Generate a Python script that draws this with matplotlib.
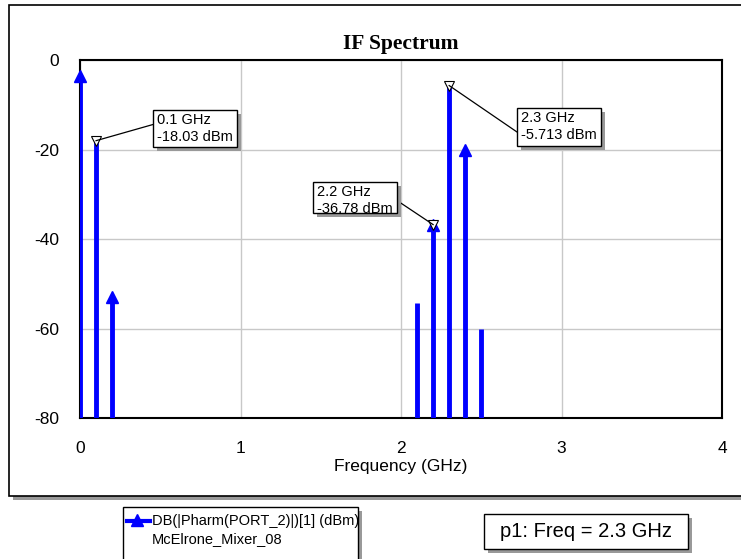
import matplotlib.pyplot as plt
from matplotlib.patches import Rectangle
from matplotlib.lines import Line2D

plt.rcParams['axes.unicode_minus'] = False

# spectrum lines (GHz, dBm)
freqs = [0.0, 0.1, 0.2, 2.1, 2.2, 2.3, 2.4, 2.5]
levels = [-3.5, -18.03, -53.0, -54.3, -36.78, -5.713, -20.0, -60.0]
# points carrying the series' triangle symbol
sym_freqs = [0.0, 0.2, 2.2, 2.4]
sym_levels = [-3.5, -53.0, -36.78, -20.0]

# marker readouts: (freq, level, box x0, box y0, box x1, box y1) in pixels from top-left
readouts = [
    (0.1, -18.03, 153, 110, 237, 147),
    (2.2, -36.78, 313, 182, 397, 213),
    (2.3, -5.713, 517, 108, 601, 146),
]

W, H = 741, 559
FONT = 'Liberation Sans'

fig = plt.figure(figsize=(W / 100, H / 100), dpi=100)


def fx(x):
    return x / W


def fy(y):
    return 1 - y / H


def shadow_box(x0, y0, x1, y1, off=4, lw=1.0, z=5):
    fig.add_artist(Rectangle((fx(x0 + off), fy(y1 + off)), fx(x1 - x0), (y1 - y0) / H,
                             transform=fig.transFigure, facecolor='#999999',
                             edgecolor='none', zorder=z))
    fig.add_artist(Rectangle((fx(x0), fy(y1)), fx(x1 - x0), (y1 - y0) / H,
                             transform=fig.transFigure, facecolor='white',
                             edgecolor='black', lw=lw, zorder=z + 0.5))


# outer frame with shadow
shadow_box(9, 5, 745, 496, off=4, lw=1.2, z=1)

ax = fig.add_axes([fx(80), fy(418), fx(722 - 80), (418 - 60) / H], zorder=10)
ax.set_xlim(0, 4)
ax.set_ylim(-80, 0)
ax.set_xticks([0, 1, 2, 3, 4])
ax.set_yticks([-80, -60, -40, -20, 0])
ax.grid(True, color='#c8c8c8', lw=1.0)
ax.set_axisbelow(True)
for s in ax.spines.values():
    s.set_linewidth(1.5)
ax.tick_params(length=0, labelsize=12.5)
ax.tick_params(axis='x', pad=16.5)
ax.tick_params(axis='y', pad=15)
for lab in ax.get_xticklabels() + ax.get_yticklabels():
    lab.set_fontfamily(FONT)
ax.set_xlabel('Frequency (GHz)', fontsize=12.5, family=FONT, labelpad=2)
ax.set_title('IF Spectrum', fontsize=15.5, fontweight='bold',
             family='Liberation Serif', pad=8)

ax.vlines(freqs, -80, levels, color='#0000ff', lw=3.5, zorder=3, clip_on=True)
ax.plot(sym_freqs, sym_levels, ls='none', marker='^', color='#0000ff',
        ms=9, zorder=4, clip_on=False)

for f, v, x0, y0, x1, y1 in readouts:
    ax.plot([f], [v], marker='v', ms=7, mfc='white', mec='black', mew=0.8,
            ls='none', zorder=6, clip_on=False)
    # leader line to the nearest box side
    disp = ax.transData.transform((f, v))
    mx, my = disp[0], H - disp[1]
    if x0 > mx:
        ex, ey = x0, (y0 + y1) / 2 - 4 if f < 1 else (y0 + y1) / 2 + 5
    else:
        ex, ey = x1, (y0 + y1) / 2 + 3
    fig.add_artist(Line2D([fx(mx), fx(ex)], [fy(my), fy(ey)], transform=fig.transFigure,
                          color='black', lw=0.9, zorder=11))
    shadow_box(x0, y0, x1, y1, off=4, z=12)
    fig.text(fx(x0 + 4), fy(y0 + 10), f'{f:g} GHz', fontsize=10.5, family=FONT,
             va='center', ha='left', zorder=13)
    fig.text(fx(x0 + 4), fy(y0 + 27), f'{v:g} dBm', fontsize=10.5, family=FONT,
             va='center', ha='left', zorder=13)

# legend box
shadow_box(123, 507, 358, 570, off=4)
fig.add_artist(Line2D([fx(127), fx(150)], [fy(521), fy(521)], transform=fig.transFigure,
                      color='#0000ff', lw=3, zorder=8))
fig.add_artist(Line2D([fx(137)], [fy(520)], transform=fig.transFigure,
                      color='#0000ff', marker='^', ms=8, ls='none', zorder=8))
fig.text(fx(152), fy(521), 'DB(|Pharm(PORT_2)|)[1] (dBm)', fontsize=10.5, family=FONT,
         va='center', ha='left', zorder=9)
fig.text(fx(152), fy(539), 'McElrone_Mixer_08', fontsize=10.5, family=FONT,
         va='center', ha='left', zorder=9)

# marker summary box
shadow_box(484, 514, 688, 549, off=4)
fig.text(fx(586), fy(531.5), 'p1: Freq = 2.3 GHz', fontsize=14.5, family=FONT,
         va='center', ha='center', zorder=9)

fig.savefig('out.png', dpi=100)
